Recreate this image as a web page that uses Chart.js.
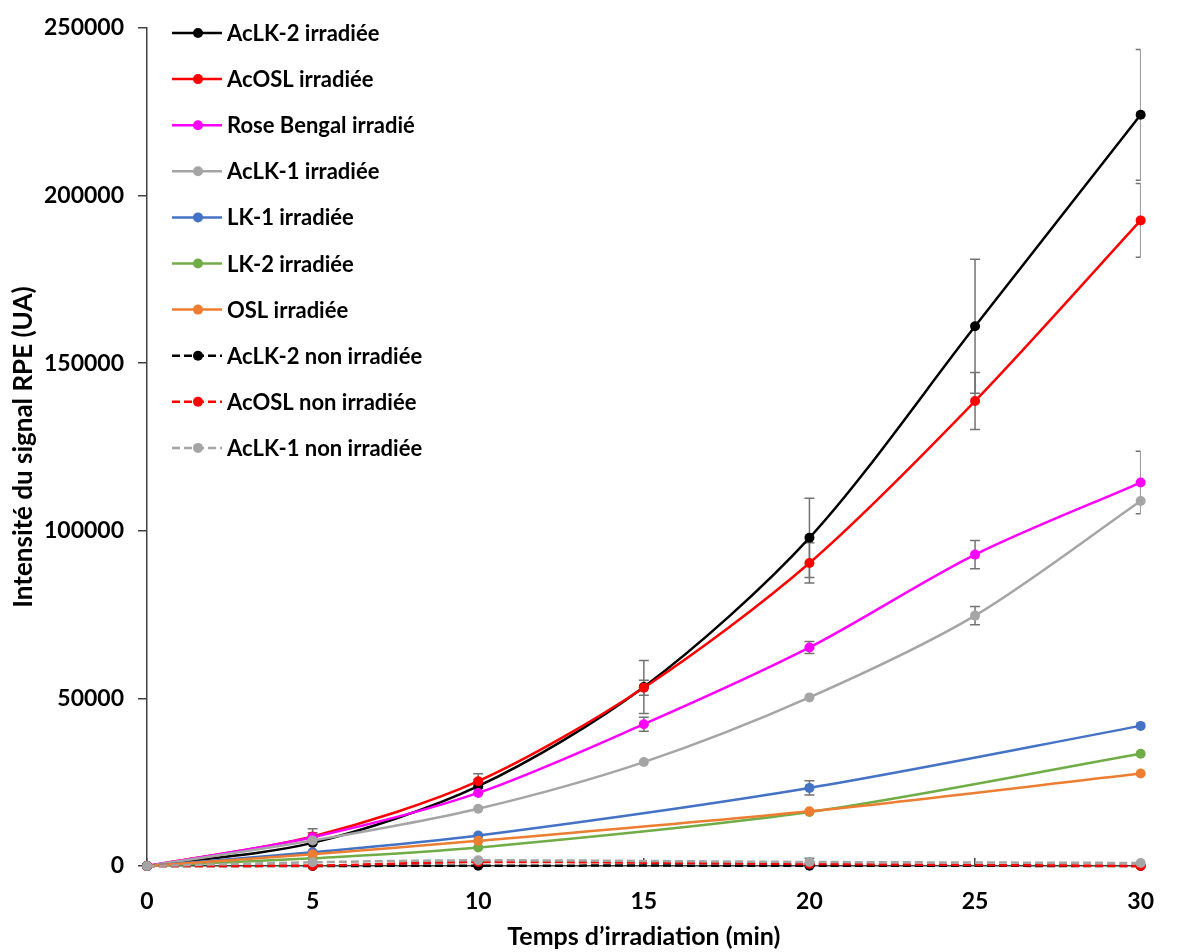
<!DOCTYPE html>
<html lang="fr">
<head>
<meta charset="utf-8">
<script src="https://cdn.jsdelivr.net/npm/chart.js@4.4.1/dist/chart.umd.min.js"></script>
<style>
  html, body { margin: 0; padding: 0; background: #fff; }
  #wrap { width: 1184px; height: 952px; }
</style>
</head>
<body>
<div id="wrap"><canvas id="rpe-chart"></canvas></div>
<script>
// temps d'irradiation (min)
const tempsComplet = [0, 5, 10, 15, 20, 25, 30];
const tempsCourt = [0, 5, 10, 20, 30];
const yTicks = [0, 50000, 100000, 150000, 200000, 250000];

// intensités (UA)
const aclk2Irr = [0, 6900, 23800, 53400, 97900, 161000, 224100];
const aclk2IrrErr = [0, 3000, 2000, 7900, 11800, 20000, 19500];
const acoslIrr = [0, 8800, 25300, 53200, 90400, 138700, 192600];
const acoslIrrErr = [0, 2300, 2200, 2250, 6000, 8500, 11000];
const roseBengalIrr = [0, 8600, 21800, 42300, 65200, 92900, 114400];
const roseBengalIrrErr = [0, 0, 0, 2100, 1800, 4200, 9300];
const aclk1Irr = [0, 7600, 17100, 31000, 50300, 74700, 108900];
const aclk1IrrErr = [0, 0, 0, 0, 0, 2700, 0];
const lk1Irr = [0, 4100, 9100, 23300, 41800];
const lk1IrrErr = [0, 0, 0, 2100, 0];
const lk2Irr = [0, 2300, 5500, 16100, 33500];
const oslIrr = [0, 3500, 7500, 16300, 27600];
const aclk2NonIrr = [0, 0, 100, 100, 0];
const acoslNonIrr = [0, 100, 1200, 600, 0];
const aclk1NonIrr = [0, 1100, 1700, 1200, 900];
const aclk1NonIrrErr = [0, 0, 0, 1100, 0];

function points(xs, ys) {
  return xs.map((x, i) => ({ x: x, y: ys[i] }));
}

const series = [
  { label: 'AcLK-2 irradiée', x: tempsComplet, y: aclk2Irr, err: aclk2IrrErr, color: '#000000' },
  { label: 'AcOSL irradiée', x: tempsComplet, y: acoslIrr, err: acoslIrrErr, color: '#FF0000' },
  { label: 'Rose Bengal irradié', x: tempsComplet, y: roseBengalIrr, err: roseBengalIrrErr, color: '#FF00FF' },
  { label: 'AcLK-1 irradiée', x: tempsComplet, y: aclk1Irr, err: aclk1IrrErr, color: '#A5A5A5' },
  { label: 'LK-1 irradiée', x: tempsCourt, y: lk1Irr, err: lk1IrrErr, color: '#4472C4' },
  { label: 'LK-2 irradiée', x: tempsCourt, y: lk2Irr, err: null, color: '#70AD47' },
  { label: 'OSL irradiée', x: tempsCourt, y: oslIrr, err: null, color: '#ED7D31' },
  { label: 'AcLK-2 non irradiée', x: tempsCourt, y: aclk2NonIrr, err: null, color: '#000000', dash: true },
  { label: 'AcOSL non irradiée', x: tempsCourt, y: acoslNonIrr, err: null, color: '#FF0000', dash: true },
  { label: 'AcLK-1 non irradiée', x: tempsCourt, y: aclk1NonIrr, err: aclk1NonIrrErr, color: '#A5A5A5', dash: true }
];

// barres d'erreur, coupées au bord de la zone de tracé
const errorBarPlugin = {
  id: 'errorBars',
  beforeDatasetsDraw(chart) {
    const ctx = chart.ctx;
    const area = chart.chartArea;
    const xs = chart.scales.x;
    const ys = chart.scales.y;
    ctx.save();
    ctx.beginPath();
    ctx.rect(area.left, area.top, area.right - area.left, area.bottom - area.top);
    ctx.clip();
    ctx.strokeStyle = '#737373';
    ctx.lineWidth = 1.5;
    chart.data.datasets.forEach(ds => {
      if (!ds.errorBars) return;
      ds.data.forEach((pt, i) => {
        const e = ds.errorBars[i];
        if (!e) return;
        const px = xs.getPixelForValue(pt.x);
        const top = ys.getPixelForValue(pt.y + e);
        const bot = ys.getPixelForValue(pt.y - e);
        ctx.beginPath();
        ctx.moveTo(px, top); ctx.lineTo(px, bot);
        ctx.moveTo(px - 5, top); ctx.lineTo(px + 5, top);
        ctx.moveTo(px - 5, bot); ctx.lineTo(px + 5, bot);
        ctx.stroke();
      });
    });
    ctx.restore();
  }
};

// légende dans la zone de tracé, en haut à gauche
const legendPlugin = {
  id: 'legendeInterne',
  afterDraw(chart) {
    const ctx = chart.ctx;
    const x0 = chart.chartArea.left + 25;
    const y0 = chart.chartArea.top + 5;
    ctx.save();
    ctx.font = 'bold 22px Lato';
    ctx.textBaseline = 'middle';
    chart.data.datasets.forEach((ds, i) => {
      const y = y0 + i * 46.1;
      ctx.strokeStyle = ds.borderColor;
      ctx.lineWidth = 2.5;
      ctx.setLineDash(ds.borderDash || []);
      ctx.beginPath();
      ctx.moveTo(x0, y);
      ctx.lineTo(x0 + 50, y);
      ctx.stroke();
      ctx.setLineDash([]);
      ctx.fillStyle = ds.borderColor;
      ctx.beginPath();
      ctx.arc(x0 + 26, y, 5, 0, Math.PI * 2);
      ctx.fill();
      ctx.fillStyle = '#000';
      ctx.fillText(ds.label, x0 + 55, y + 1);
    });
    ctx.restore();
  }
};

Chart.defaults.font.family = 'Lato';

const datasets = series.map((s, i) => ({
  label: s.label,
  data: points(s.x, s.y),
  errorBars: s.err,
  borderColor: s.color,
  backgroundColor: s.color,
  borderWidth: 2.5,
  borderDash: s.dash ? [8, 4] : [],
  pointRadius: 5,
  pointHoverRadius: 5,
  pointBorderWidth: 0,
  tension: 0.3,
  fill: false,
  clip: false,
  order: series.length - 1 - i  // les dernières séries au premier plan
}));

new Chart(document.getElementById('rpe-chart'), {
  type: 'line',
  data: { datasets: datasets },
  plugins: [errorBarPlugin, legendPlugin],
  options: {
    responsive: true,
    maintainAspectRatio: false,
    animation: false,
    layout: { padding: { top: 28, right: 24, bottom: 0, left: 0 } },
    plugins: {
      legend: { display: false },
      tooltip: { enabled: false }
    },
    scales: {
      x: {
        type: 'linear',
        min: 0,
        max: 30,
        afterBuildTicks: (scale) => { scale.ticks = tempsComplet.map(v => ({ value: v })); },
        afterFit: (scale) => { scale.height = 86; },
        grid: { drawOnChartArea: false, tickLength: -8, color: '#404040', lineWidth: 1.5 },
        border: { color: '#404040', width: 1.5 },
        ticks: { color: '#000', font: { size: 23, weight: 'bold' }, padding: 30, maxRotation: 0 },
        title: {
          display: true,
          text: 'Temps d\u2019irradiation (min)',
          color: '#000',
          font: { size: 25, weight: 'bold' },
          padding: { top: 0, bottom: 0 }
        }
      },
      y: {
        min: 0,
        max: 250000,
        afterBuildTicks: (scale) => { scale.ticks = yTicks.map(v => ({ value: v })); },
        afterFit: (scale) => { scale.width = 147; },
        grid: { drawOnChartArea: false, tickLength: 9, color: '#404040', lineWidth: 1.5 },
        border: { color: '#404040', width: 1.5 },
        ticks: {
          color: '#000',
          font: { size: 23, weight: 'bold' },
          padding: 14,
          callback: (value) => String(value)
        },
        title: {
          display: true,
          text: 'Intensité du signal RPE (UA)',
          color: '#000',
          font: { size: 26, weight: 'bold' },
          padding: { top: 8, bottom: 0 }
        }
      }
    }
  }
});
</script>
</body>
</html>
